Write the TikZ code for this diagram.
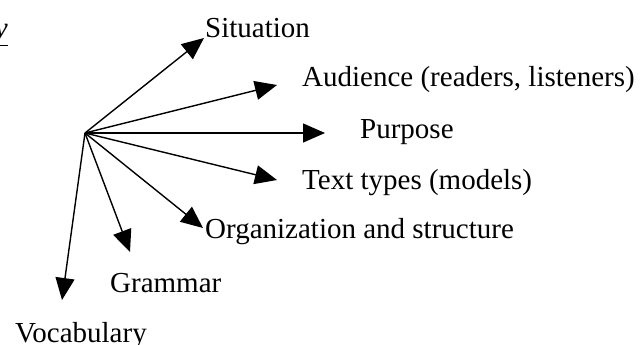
\documentclass[tikz,border=0pt]{standalone}
\usepackage{fontspec}
\setmainfont{Liberation Serif}
\usetikzlibrary{arrows.meta}

\begin{document}
\begin{tikzpicture}[x=1pt, y=-1pt,
    every node/.style={font=\fontsize{29}{34}\selectfont, inner sep=0pt, anchor=base west},
    spoke/.style={-{Triangle[length=22pt, width=19pt]}, line width=1.4pt}
    ]
    \useasboundingbox (0,0) rectangle (640,345);
    \clip (0,0) rectangle (640,345);
    \node[anchor=base east] (head) at (8,38) {\underline{\itshape y}};
    \coordinate (c) at (85,133);
    \node (sit) at (205,38) {Situation};
    \node (aud) at (302,87) {Audience (readers, listeners)};
    \node (pur) at (360,138) {Purpose};
    \node (typ) at (302,189) {Text types (models)};
    \node (org) at (205,238) {Organization and structure};
    \node (gra) at (110,292) {Grammar};
    \node (voc) at (15,342) {Vocabulary};
    \coordinate (sit tip) at (204,38);
    \coordinate (aud tip) at (277,85);
    \coordinate (pur tip) at (325,133);
    \coordinate (typ tip) at (277,180);
    \coordinate (org tip) at (203,228);
    \coordinate (gra tip) at (130,252);
    \coordinate (voc tip) at (62,300);
    \foreach \t in {sit, aud, pur, typ, org, gra, voc}
      \draw[spoke] (c) -- (\t\space tip);
  \end{tikzpicture}
\end{document}
